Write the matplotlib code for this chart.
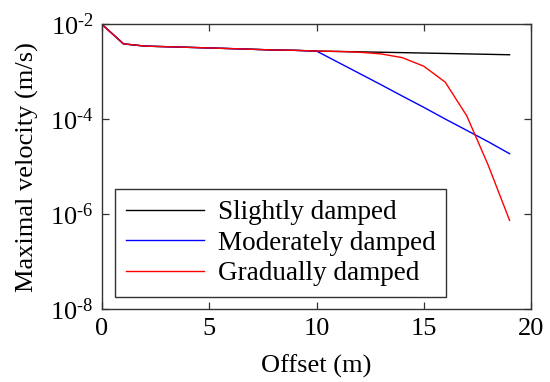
import matplotlib
matplotlib.use("Agg")
import matplotlib.pyplot as plt
from matplotlib.ticker import FixedLocator, FixedFormatter, NullLocator

plt.rcParams['font.family'] = ['Liberation Serif', 'DejaVu Serif']
plt.rcParams['mathtext.fontset'] = 'custom'
plt.rcParams['mathtext.rm'] = 'Liberation Serif'
plt.rcParams['mathtext.it'] = 'Liberation Serif:italic'

offset = list(range(20))

slightly = [1.0e-2, 3.9e-3, 3.5e-3, 3.4e-3, 3.3e-3, 3.2e-3, 3.1e-3, 3.0e-3,
            2.9e-3, 2.85e-3, 2.75e-3, 2.7e-3, 2.65e-3, 2.6e-3, 2.55e-3,
            2.5e-3, 2.45e-3, 2.4e-3, 2.35e-3, 2.3e-3]
moderately = [1.0e-2, 3.9e-3, 3.5e-3, 3.4e-3, 3.3e-3, 3.2e-3, 3.1e-3, 3.0e-3,
              2.9e-3, 2.85e-3, 2.75e-3, 1.6e-3, 9.3e-4, 5.4e-4, 3.1e-4,
              1.8e-4, 1.02e-4, 5.9e-5, 3.4e-5, 1.9e-5]
gradually = [1.0e-2, 3.9e-3, 3.5e-3, 3.4e-3, 3.3e-3, 3.2e-3, 3.1e-3, 3.0e-3,
             2.9e-3, 2.85e-3, 2.75e-3, 2.7e-3, 2.6e-3, 2.4e-3, 2.0e-3,
             1.32e-3, 6.1e-4, 1.2e-4, 1.1e-5, 7.5e-7]

labels = ["Slightly damped", "Moderately damped", "Gradually damped"]
colors = ["black", "blue", "red"]

ytick_vals = [1e-8, 1e-6, 1e-4, 1e-2]
ytick_text = [r"$\mathregular{10^{\text{-}8}}$", r"$\mathregular{10^{\text{-}6}}$",
              r"$\mathregular{10^{\text{-}4}}$", r"$\mathregular{10^{\text{-}2}}$"]
xtick_vals = [0, 5, 10, 15, 20]

fig = plt.figure(figsize=(5.5, 3.82), dpi=100)
ax = fig.add_axes([0.1855, 0.190, 0.78, 0.746])

for series, lab, col in zip([slightly, moderately, gradually], labels, colors):
    ax.plot(offset, series, color=col, lw=1.0, label=lab)

ax.set_yscale('log')
ax.set_xlim(0, 20)
ax.set_ylim(1e-8, 1e-2)
ax.yaxis.set_major_locator(FixedLocator(ytick_vals))
ax.yaxis.set_major_formatter(FixedFormatter(ytick_text))
ax.yaxis.set_minor_locator(NullLocator())
ax.set_xticks(xtick_vals)
ax.set_xticklabels([str(v) for v in xtick_vals])

ax.tick_params(direction='in', which='both', top=True, right=True,
               length=5, width=0.9, color='#333333', labelsize=19, pad=6)
for sp in ax.spines.values():
    sp.set_linewidth(1.0)
    sp.set_color('#333333')

ax.set_xlabel("Offset (m)", fontsize=19, labelpad=11)
ax.set_ylabel("Maximal velocity (m/s)", fontsize=19, labelpad=8)

leg = ax.legend(loc='lower left', bbox_to_anchor=(0.03, 0.044),
                borderaxespad=0, fontsize=19.5, frameon=True, fancybox=False,
                handlelength=2.9, handletextpad=0.5, labelspacing=0.2,
                borderpad=0.4)
leg.get_frame().set_edgecolor('black')
leg.get_frame().set_linewidth(1.0)

fig.savefig("out.png", dpi=100)
